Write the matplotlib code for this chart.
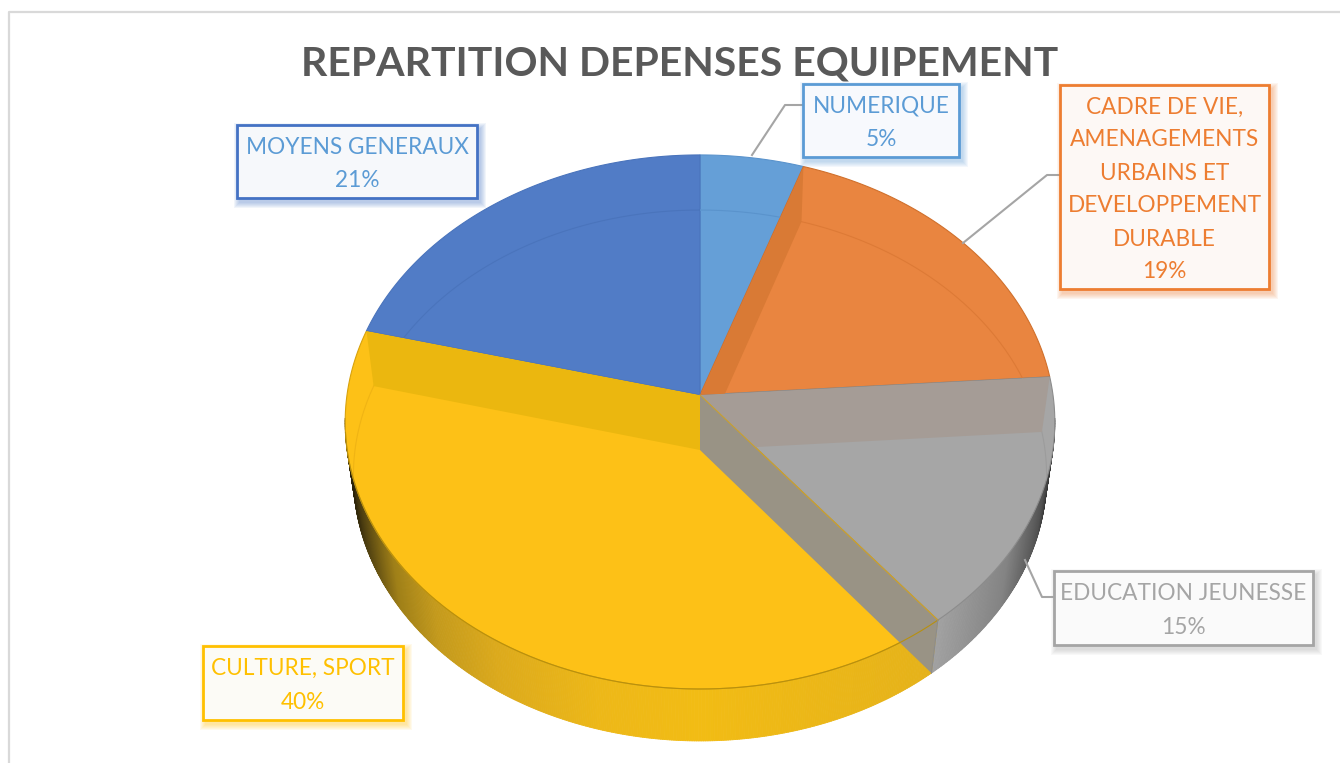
import numpy as np
import matplotlib
matplotlib.use("Agg")
import matplotlib.pyplot as plt
from matplotlib.collections import PolyCollection
from matplotlib.colors import to_rgb
from matplotlib.patches import Polygon, Rectangle

title = "REPARTITION DEPENSES EQUIPEMENT"

# clockwise from 12 o'clock, decimals estimated from the slice edges
categories = [
    "NUMERIQUE",
    "CADRE DE VIE,\nAMENAGEMENTS\nURBAINS ET\nDEVELOPPEMENT\nDURABLE",
    "EDUCATION JEUNESSE",
    "CULTURE, SPORT",
    "MOYENS GENERAUX",
]
values = [5.2, 18.7, 15.45, 39.65, 21.0]

face_colors = ["#659fd7", "#e98540", "#a6a6a6", "#fdc117", "#517cc6"]
edge_colors = ["#5a93cc", "#d0702c", "#8c8c8c", "#d8a20c", "#4a74bc"]
rim_colors = ["#5a93cc", "#dd7a36", "#9c9c9c", "#f0b414", "#4a74bc"]
text_colors = ["#5b9bd5", "#ed7d31", "#a5a5a5", "#ffc000", "#5b9bd5"]
border_colors = ["#5b9bd5", "#ed7d31", "#a5a5a5", "#ffc000", "#4472c4"]
box_fills = ["#f7f9fd", "#fdf8f5", "#fafafa", "#fcfbf6", "#f6f8fb"]

# box: left, top, right, bottom in pixels
boxes = [
    (803, 84, 959, 157),
    (1060, 85, 1269, 289),
    (1054, 571, 1313, 645),
    (203, 646, 403, 720),
    (237, 125, 477, 198),
]
leaders = [
    [(752, 155), (785, 105), (803, 105)],
    [(963, 243), (1047, 175), (1060, 175)],
    [(1025, 560), (1042, 597), (1054, 597)],
    None,
    None,
]

plt.rcParams["font.family"] = ["Lato", "DejaVu Sans"]


def project(theta, level):
    # perspective view of the disc, level 0 = top face, 1 = bottom face
    if level == 0:
        cy, b, r, p = 395, 264.3, 353, 0.101
    else:
        cy, b, r, p = 450, 263, 345, 0.096
    u = np.sin(theta)
    v = np.cos(theta)
    w = 1 + p * v
    return np.column_stack([700 + r * u / w, cy - b * v / w])


def shade(stops_x, stops_c, x):
    rgb = np.array([to_rgb(c) for c in stops_c])
    return [np.interp(x, stops_x, rgb[:, i]) for i in range(3)]


fig = plt.figure(figsize=(13.4, 7.63), dpi=100)
ax = fig.add_axes([0, 0, 1, 1])
ax.set_xlim(0, 1340)
ax.set_ylim(763, 0)
ax.axis("off")

# chart frame, cut off by the screenshot on the right and at the bottom
ax.plot([9, 9, 1340], [763, 12, 12], color="#d9d9d9", lw=1.6, zorder=1)

edges = np.cumsum([0] + values) / 100 * 2 * np.pi
apex_top = np.array([[700, 395]])
apex_bot = np.array([[700, 450]])

# --- outer wall, gradient drawn as thin quads ---
gray_x = [930, 1000, 1035, 1050]
gray_c = ["#a2a2a2", "#838383", "#525252", "#1e1e1e"]
yellow_x = [350, 365, 400, 440, 500, 600, 700, 930]
yellow_c = ["#201a08", "#4a3c10", "#a08018", "#c49a1c", "#dcaa1c", "#edb818", "#f2bc14", "#e5b21a"]

quads = []
colors = []
th = np.linspace(np.radians(95), np.radians(265), 500)
for a, b in zip(th[:-1], th[1:]):
    t0 = project(np.array([a, b]), 0)
    t1 = project(np.array([b, a]), 1)
    quads.append(np.vstack([t0, t1]))
    xm = t1[:, 0].mean()
    if a < edges[3]:
        colors.append(shade(gray_x, gray_c, xm))
    else:
        colors.append(shade(yellow_x, yellow_c, xm))
ax.add_collection(PolyCollection(quads, facecolors=colors, edgecolors=colors, linewidths=0.6, zorder=2))

# --- top faces ---
faces = []
for i in range(len(values)):
    arc = project(np.linspace(edges[i], edges[i + 1], 200), 0)
    face = Polygon(np.vstack([apex_top, arc]), closed=True, facecolor=face_colors[i],
                   edgecolor=edge_colors[i], lw=0.8, zorder=3)
    ax.add_patch(face)
    faces.append(face)

# bottom rim showing through, under the cut walls
rim = project(np.linspace(0, 2 * np.pi, 600), 1)
for i in range(len(values)):
    line, = ax.plot(rim[:, 0], rim[:, 1], color=rim_colors[i], lw=0.8, zorder=3.5)
    line.set_clip_path(faces[i])


def wall(theta, color, clip=None):
    top = project(np.array([theta]), 0)
    bot = project(np.array([theta]), 1)
    poly = Polygon(np.vstack([apex_top, top, bot, apex_bot]), closed=True, facecolor=color,
                   edgecolor="none", zorder=4)
    ax.add_patch(poly)
    if clip is not None:
        poly.set_clip_path(clip)
    return poly


# cut walls seen through the faces
wall(edges[1], "#d97a35", clip=faces[1])
wall(edges[2], "#a59c96", clip=faces[2])
wall(edges[4], "#ebb70f", clip=faces[3])
wall(edges[3], "#999385")

# front edge of the top face and the cut line over the gray slice
front = project(np.linspace(edges[3], np.radians(262), 300), 0)
ax.plot(front[:, 0], front[:, 1], color="#b8900f", lw=0.8, zorder=5)
cut = np.vstack([apex_top, project(np.array([edges[3]]), 0)])
ax.plot(cut[:, 0], cut[:, 1], color="#c9a030", lw=0.8, zorder=5)
cut_side = np.vstack([project(np.array([edges[3]]), 0), project(np.array([edges[3]]), 1)])
ax.plot(cut_side[:, 0], cut_side[:, 1], color="#8c8c8c", lw=0.8, zorder=5)

# --- labels ---
for i, cat in enumerate(categories):
    x0, y0, x1, y1 = boxes[i]
    if leaders[i] is not None:
        pts = np.array(leaders[i])
        ax.plot(pts[:, 0], pts[:, 1], color="#a5a5a5", lw=1.5, zorder=6)
    # soft shadow
    for g in range(6, 0, -1):
        ax.add_patch(Rectangle((x0 + 3 - g, y0 + 4 - g), x1 - x0 + 2 * g, y1 - y0 + 2 * g,
                               facecolor=border_colors[i], edgecolor="none", alpha=0.07, zorder=7))
    ax.add_patch(Rectangle((x0, y0), x1 - x0, y1 - y0, facecolor=box_fills[i],
                           edgecolor=border_colors[i], lw=2.0, zorder=8))
    lines = cat.split("\n") + [f"{round(values[i])}%"]
    step = (y1 - y0 - 6) / len(lines)
    for k, txt in enumerate(lines):
        ax.text((x0 + x1) / 2, y0 + 3 + step * (k + 0.5) + 2.5, txt, color=text_colors[i], fontsize=16.3,
                ha="center", va="center", zorder=9)

ax.text(680, 64, title, color="#595959", fontsize=29.5, fontweight="bold", ha="center", va="center", zorder=6.5)

fig.savefig("out.png", dpi=100)
